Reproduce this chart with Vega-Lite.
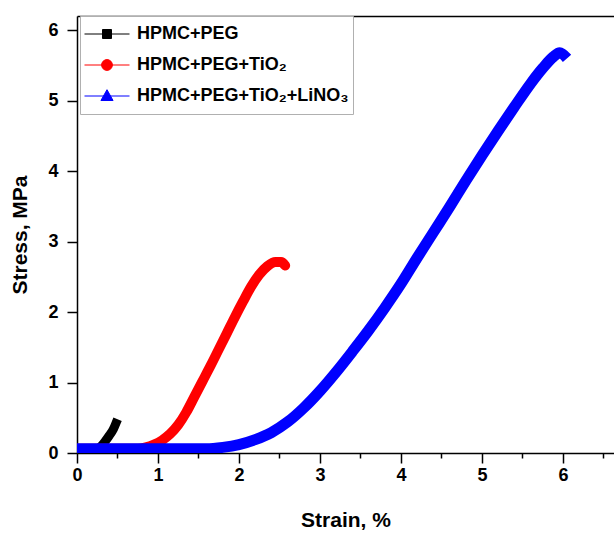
{
  "$schema": "https://vega.github.io/schema/vega-lite/v6.json",
  "autosize": {"type": "none"},
  "padding": {"left": 77, "top": 16, "right": 0, "bottom": 80},
  "width": 537,
  "height": 437,
  "background": "white",
  "config": {
    "view": {"stroke": null},
    "font": "Liberation Sans",
    "axis": {
      "domainColor": "black", "domainWidth": 1.5,
      "tickColor": "black", "tickWidth": 1.5,
      "labelFont": "Liberation Sans", "labelFontWeight": "bold", "labelFontSize": 18, "labelColor": "black",
      "titleFont": "Liberation Sans", "titleFontWeight": "bold", "titleFontSize": 21, "titleColor": "black",
      "grid": false
    }
  },
  "data": {"values": [
    {"series": "HPMC+PEG", "strain": 0.0, "stress": 0.06},
    {"series": "HPMC+PEG", "strain": 0.25, "stress": 0.06},
    {"series": "HPMC+PEG", "strain": 0.3, "stress": 0.1},
    {"series": "HPMC+PEG", "strain": 0.35, "stress": 0.17},
    {"series": "HPMC+PEG", "strain": 0.4, "stress": 0.25},
    {"series": "HPMC+PEG", "strain": 0.45, "stress": 0.34},
    {"series": "HPMC+PEG", "strain": 0.48, "stress": 0.42},
    {"series": "HPMC+PEG+TiO₂", "strain": 0.0, "stress": 0.06},
    {"series": "HPMC+PEG+TiO₂", "strain": 0.75, "stress": 0.06},
    {"series": "HPMC+PEG+TiO₂", "strain": 0.85, "stress": 0.08},
    {"series": "HPMC+PEG+TiO₂", "strain": 0.95, "stress": 0.12},
    {"series": "HPMC+PEG+TiO₂", "strain": 1.05, "stress": 0.18},
    {"series": "HPMC+PEG+TiO₂", "strain": 1.15, "stress": 0.27},
    {"series": "HPMC+PEG+TiO₂", "strain": 1.25, "stress": 0.4},
    {"series": "HPMC+PEG+TiO₂", "strain": 1.35, "stress": 0.58},
    {"series": "HPMC+PEG+TiO₂", "strain": 1.45, "stress": 0.8},
    {"series": "HPMC+PEG+TiO₂", "strain": 1.55, "stress": 1.02},
    {"series": "HPMC+PEG+TiO₂", "strain": 1.65, "stress": 1.24},
    {"series": "HPMC+PEG+TiO₂", "strain": 1.75, "stress": 1.47},
    {"series": "HPMC+PEG+TiO₂", "strain": 1.85, "stress": 1.7},
    {"series": "HPMC+PEG+TiO₂", "strain": 1.95, "stress": 1.93},
    {"series": "HPMC+PEG+TiO₂", "strain": 2.05, "stress": 2.15},
    {"series": "HPMC+PEG+TiO₂", "strain": 2.15, "stress": 2.36},
    {"series": "HPMC+PEG+TiO₂", "strain": 2.25, "stress": 2.53},
    {"series": "HPMC+PEG+TiO₂", "strain": 2.35, "stress": 2.65},
    {"series": "HPMC+PEG+TiO₂", "strain": 2.45, "stress": 2.71},
    {"series": "HPMC+PEG+TiO₂", "strain": 2.52, "stress": 2.71},
    {"series": "HPMC+PEG+TiO₂", "strain": 2.57, "stress": 2.66},
    {"series": "HPMC+PEG+TiO₂+LiNO₃", "strain": 0.0, "stress": 0.06},
    {"series": "HPMC+PEG+TiO₂+LiNO₃", "strain": 1.6, "stress": 0.06},
    {"series": "HPMC+PEG+TiO₂+LiNO₃", "strain": 1.8, "stress": 0.08},
    {"series": "HPMC+PEG+TiO₂+LiNO₃", "strain": 2.0, "stress": 0.12},
    {"series": "HPMC+PEG+TiO₂+LiNO₃", "strain": 2.2, "stress": 0.19},
    {"series": "HPMC+PEG+TiO₂+LiNO₃", "strain": 2.4, "stress": 0.29},
    {"series": "HPMC+PEG+TiO₂+LiNO₃", "strain": 2.6, "stress": 0.44},
    {"series": "HPMC+PEG+TiO₂+LiNO₃", "strain": 2.8, "stress": 0.64},
    {"series": "HPMC+PEG+TiO₂+LiNO₃", "strain": 3.0, "stress": 0.88},
    {"series": "HPMC+PEG+TiO₂+LiNO₃", "strain": 3.2, "stress": 1.15},
    {"series": "HPMC+PEG+TiO₂+LiNO₃", "strain": 3.4, "stress": 1.44},
    {"series": "HPMC+PEG+TiO₂+LiNO₃", "strain": 3.6, "stress": 1.74},
    {"series": "HPMC+PEG+TiO₂+LiNO₃", "strain": 3.8, "stress": 2.06},
    {"series": "HPMC+PEG+TiO₂+LiNO₃", "strain": 4.0, "stress": 2.4},
    {"series": "HPMC+PEG+TiO₂+LiNO₃", "strain": 4.2, "stress": 2.77},
    {"series": "HPMC+PEG+TiO₂+LiNO₃", "strain": 4.4, "stress": 3.13},
    {"series": "HPMC+PEG+TiO₂+LiNO₃", "strain": 4.6, "stress": 3.49},
    {"series": "HPMC+PEG+TiO₂+LiNO₃", "strain": 4.8, "stress": 3.86},
    {"series": "HPMC+PEG+TiO₂+LiNO₃", "strain": 5.0, "stress": 4.22},
    {"series": "HPMC+PEG+TiO₂+LiNO₃", "strain": 5.2, "stress": 4.57},
    {"series": "HPMC+PEG+TiO₂+LiNO₃", "strain": 5.4, "stress": 4.91},
    {"series": "HPMC+PEG+TiO₂+LiNO₃", "strain": 5.6, "stress": 5.24},
    {"series": "HPMC+PEG+TiO₂+LiNO₃", "strain": 5.75, "stress": 5.46},
    {"series": "HPMC+PEG+TiO₂+LiNO₃", "strain": 5.88, "stress": 5.62},
    {"series": "HPMC+PEG+TiO₂+LiNO₃", "strain": 5.96, "stress": 5.68},
    {"series": "HPMC+PEG+TiO₂+LiNO₃", "strain": 6.05, "stress": 5.6}
  ]},
  "resolve": {"axis": {"x": "independent"}},
  "layer": [
    {
      "transform": [{"filter": "datum.series === 'HPMC+PEG'"}],
      "mark": {"type": "line", "strokeWidth": 9, "strokeCap": "square", "strokeJoin": "round", "interpolate": "monotone", "clip": true},
      "encoding": {
        "x": {"field": "strain", "type": "quantitative",
          "scale": {"domain": [0, 6.63], "nice": false, "zero": false},
          "axis": {"orient": "bottom", "title": "Strain, %", "format": "~g",
            "values": [0, 0.5, 1, 1.5, 2, 2.5, 3, 3.5, 4, 4.5, 5, 5.5, 6, 6.5],
            "labelExpr": "datum.value % 1 === 0 ? datum.label : ''",
            "tickSize": {"condition": {"test": "datum.value % 1 !== 0", "value": 5}, "value": 10},
            "labelPadding": 3, "titlePadding": 25, "labelFlush": false}},
        "y": {"field": "stress", "type": "quantitative",
          "scale": {"domain": [0, 6.2], "nice": false, "zero": false},
          "axis": {"title": "Stress, MPa", "format": "~g",
            "values": [0, 0.5, 1, 1.5, 2, 2.5, 3, 3.5, 4, 4.5, 5, 5.5, 6],
            "labelExpr": "datum.value % 1 === 0 ? datum.label : ''",
            "tickSize": {"condition": {"test": "datum.value % 1 !== 0", "value": 5}, "value": 10},
            "labelPadding": 9, "titlePadding": 17, "labelFlush": false}},
        "color": {"field": "series", "type": "nominal",
          "scale": {"domain": ["HPMC+PEG", "HPMC+PEG+TiO₂", "HPMC+PEG+TiO₂+LiNO₃"], "range": ["#000000", "#ff0000", "#0000ff"]},
          "legend": {
            "title": null, "orient": "none", "legendX": 3, "legendY": 0,
            "padding": 4, "strokeColor": "#b0b0b0", "fillColor": "white",
            "symbolSize": 2025, "clipHeight": 28, "rowPadding": 3, "labelOffset": 7,
            "symbolStrokeWidth": 1,
            "labelFont": "Liberation Sans", "labelFontWeight": "bold", "labelFontSize": 18, "labelColor": "black", "labelLimit": 400,
            "encode": {"symbols": {"update": {
              "shape": {"signal": "datum.value === 'HPMC+PEG' ? 'M-1,0H1M-0.2,-0.2H0.2V0.2H-0.2Z' : (datum.value === 'HPMC+PEG+TiO₂' ? 'M-1,0H1M0.24,0A0.24,0.24,0,1,1,-0.24,0A0.24,0.24,0,1,1,0.24,0Z' : 'M-1,0H1M0,-0.28L0.27,0.2L-0.27,0.2Z')"},
              "fill": {"scale": "color", "field": "value"},
              "fillOpacity": {"value": 1}
            }}}
          }}
      }
    },
    {
      "transform": [{"filter": "datum.series === 'HPMC+PEG+TiO₂'"}],
      "mark": {"type": "line", "strokeWidth": 10, "strokeCap": "round", "strokeJoin": "round", "interpolate": "monotone", "clip": true},
      "encoding": {
        "x": {"field": "strain", "type": "quantitative",
          "axis": {"orient": "top", "title": null, "labels": false, "ticks": false, "domain": true}},
        "y": {"field": "stress", "type": "quantitative"},
        "color": {"field": "series", "type": "nominal"}
      }
    },
    {
      "transform": [{"filter": "datum.series === 'HPMC+PEG+TiO₂+LiNO₃'"}],
      "mark": {"type": "line", "strokeWidth": 11, "strokeCap": "butt", "strokeJoin": "round", "interpolate": "monotone", "clip": true},
      "encoding": {
        "x": {"field": "strain", "type": "quantitative", "axis": null},
        "y": {"field": "stress", "type": "quantitative"},
        "color": {"field": "series", "type": "nominal"}
      }
    }
  ]
}
